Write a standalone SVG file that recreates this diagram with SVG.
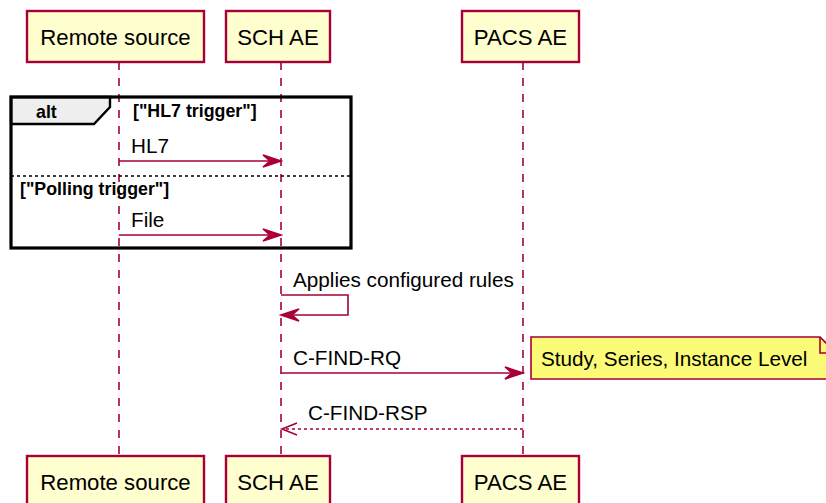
<svg xmlns="http://www.w3.org/2000/svg" width="826" height="503" viewBox="0 0 826 503">
<style>
.part{fill:#FEFECE;stroke:#A80036;stroke-width:2.4}
.ptxt{font-family:"Liberation Sans",Arial,sans-serif;font-size:22.2px;fill:#000}
.life{stroke:#A80036;stroke-width:1.6;stroke-dasharray:8,8;fill:none}
.msg{stroke:#A80036;stroke-width:1.6;fill:none}
.dash{stroke-dasharray:3,3}
.mtxt{font-family:"Liberation Sans",Arial,sans-serif;font-size:20.7px;fill:#000}
.gtxt{font-family:"Liberation Sans",Arial,sans-serif;font-size:17.8px;font-weight:bold;fill:#000}
.head{fill:#A80036;stroke:#A80036;stroke-width:1.6}
</style>
<rect width="826" height="503" fill="#fff"/>
<g id="lifelines">
<line class="life" x1="119" y1="62" x2="119" y2="456"/>
<line class="life" x1="281" y1="62" x2="281" y2="456"/>
<line class="life" x1="523" y1="62" x2="523" y2="456"/>
</g>
<g id="remote-top"><rect class="part" x="27" y="11" width="177" height="51"/><text class="ptxt" x="115.5" y="44.5" text-anchor="middle">Remote source</text></g>
<g id="sch-top"><rect class="part" x="226" y="11" width="104" height="51"/><text class="ptxt" x="278" y="44.5" text-anchor="middle">SCH AE</text></g>
<g id="pacs-top"><rect class="part" x="462" y="11" width="117" height="51"/><text class="ptxt" x="520.5" y="44.5" text-anchor="middle">PACS AE</text></g>
<g id="alt">
<path d="M11,97 H110 V107 L94,124 H11 Z" fill="#EEEEEE" stroke="#000" stroke-width="2.4"/>
<rect x="11" y="97" width="340" height="151" fill="none" stroke="#000" stroke-width="3.2"/>
<text class="gtxt" x="36" y="118" font-size="19.5px">alt</text>
<text class="gtxt" x="133" y="117">["HL7 trigger"]</text>
<line x1="11" y1="176" x2="351" y2="176" stroke="#000" stroke-width="1.6" stroke-dasharray="3,3"/>
<text class="gtxt" x="20" y="195">["Polling trigger"]</text>
</g>
<g id="connectors">
<line class="msg" x1="119" y1="161" x2="279" y2="161"/>
<polygon class="head" points="263,155 281,161 263,167 270,161"/>
<text class="mtxt" x="131" y="153">HL7</text>
<line class="msg" x1="119" y1="235" x2="279" y2="235"/>
<polygon class="head" points="263,229 281,235 263,241 270,235"/>
<text class="mtxt" x="131" y="227">File</text>
<polyline class="msg" points="281,295 348,295 348,315 283,315"/>
<polygon class="head" points="299,309 281,315 299,321 292,315"/>
<text class="mtxt" x="293" y="287">Applies configured rules</text>
<line class="msg" x1="281" y1="373" x2="521" y2="373"/>
<polygon class="head" points="505,367 523,373 505,379 512,373"/>
<text class="mtxt" x="293" y="365">C-FIND-RQ</text>
<line class="msg dash" x1="523" y1="429" x2="284" y2="429"/>
<polyline class="msg" points="297,423 282,429 297,435" stroke-width="2.2"/>
<text class="mtxt" x="308" y="420">C-FIND-RSP</text>
</g>
<g id="note">
<path d="M531,337 H820 L836,353 V379 H531 Z" fill="#FBFB77" stroke="#A80036" stroke-width="1.6"/>
<path d="M820,337 V353 H836" fill="none" stroke="#A80036" stroke-width="1.6"/>
<text class="mtxt" x="541" y="366">Study, Series, Instance Level</text>
</g>
<g id="remote-bottom"><rect class="part" x="27" y="456" width="177" height="51"/><text class="ptxt" x="115.5" y="490" text-anchor="middle">Remote source</text></g>
<g id="sch-bottom"><rect class="part" x="226" y="456" width="104" height="51"/><text class="ptxt" x="278" y="490" text-anchor="middle">SCH AE</text></g>
<g id="pacs-bottom"><rect class="part" x="462" y="456" width="117" height="51"/><text class="ptxt" x="520.5" y="490" text-anchor="middle">PACS AE</text></g>
</svg>
